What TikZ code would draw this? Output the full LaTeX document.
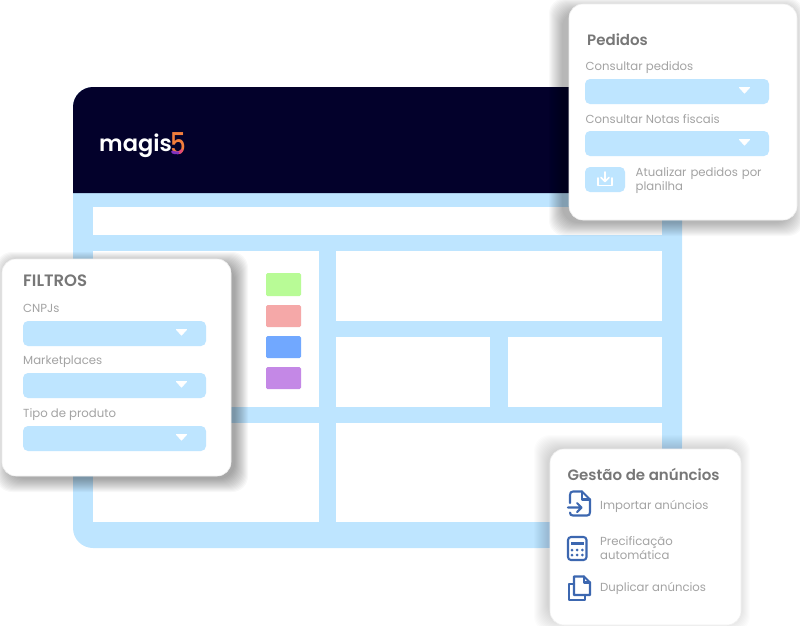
\documentclass[tikz,border=0pt]{standalone}
\usepackage{fontspec}
\setmainfont{Poppins}
\newfontfamily\popsemi{Poppins SemiBold}
\newfontfamily\popmed{Poppins Medium}
\usetikzlibrary{arrows.meta,calc}
\definecolor{navy}{HTML}{03012B}
\definecolor{sky}{HTML}{BEE5FF}
\definecolor{ttl}{HTML}{777777}
\definecolor{lbl}{HTML}{A3A3A3}
\definecolor{ico}{HTML}{3C67B0}
\tikzset{
  x=1pt,y=-1pt,
  wpanel/.style={fill=white,draw=none},
  cardbox/.style={fill=white,draw=black!6,line width=.6pt,rounded corners=14pt},
  dropbox/.style={fill=sky,draw=none,rounded corners=5pt},
  tri/.style={fill=white,draw=white,line width=1pt,line join=round},
  titletxt/.style={anchor=west,inner sep=0pt,text=ttl,font=\popsemi\fontsize{15}{15}\selectfont},
  labeltxt/.style={anchor=west,inner sep=0pt,text=lbl,font=\fontsize{11.7}{14}\selectfont},
  swatch/.style={draw=none,rounded corners=1.5pt},
  icon/.style={draw=ico,line width=2.1pt,line join=round,line cap=round,fill=none},
}
\newcommand{\softshadow}[3]{%
  \foreach \g in {14,13,...,1}{
    \fill[black,opacity=#3,rounded corners=16pt] ($#1+(-\g,-\g)$) rectangle ($#2+(\g,\g)$);
  }
}
\newcommand{\dropdown}[3]{% x1, y1, x2
  \fill[dropbox] (#1,#2) rectangle (#3,#2+25);
  \fill[tri] (#3-29.5,#2+8.5) -- (#3-19.5,#2+8.5) -- (#3-24.5,#2+14) -- cycle;
}
\begin{document}
\begin{tikzpicture}
\useasboundingbox (0,0) rectangle (800,625);
% main window
\fill[sky,rounded corners=20pt] (73,87) rectangle (682,548);
\fill[navy,rounded corners=20pt] (73,193) [sharp corners] -- (73,193) [rounded corners=20pt] -- (73,87) [sharp corners] -- (682,87) -- (682,193) -- cycle;
\fill[wpanel] (93,207) rectangle (662,235);
\fill[wpanel] (93,251) rectangle (319,407);
\fill[wpanel] (336,251) rectangle (662,321);
\fill[wpanel] (336,337) rectangle (490,407);
\fill[wpanel] (508,337) rectangle (662,407);
\fill[wpanel] (93,423) rectangle (319,522);
\fill[wpanel] (336,423) rectangle (662,522);
% swatches
\fill[swatch,fill={rgb,255:red,184;green,251;blue,150}] (266,273) rectangle (301,296);
\fill[swatch,fill={rgb,255:red,245;green,168;blue,168}] (266,305) rectangle (301,327);
\fill[swatch,fill={rgb,255:red,113;green,168;blue,255}] (266,336) rectangle (301,358);
\fill[swatch,fill={rgb,255:red,196;green,136;blue,230}] (266,367) rectangle (301,389);
% logo
\node[anchor=base west,inner sep=0pt,text=white,font=\popsemi\fontsize{22.5}{25}\selectfont] (logo) at (99,151.5) {magis};
\node[anchor=base west,inner sep=0pt,text={rgb,255:red,242;green,125;blue,60},font=\popmed\fontsize{30}{31}\selectfont,xscale=.82] (five) at (170,154) {5};
\draw[line width=2.9pt,line cap=round,draw={rgb,255:red,226;green,70;blue,120}] (181.6,150.5) .. controls (180.8,152) and (179.5,152.7) .. (178,152.8);
\draw[line width=2.9pt,line cap=round,draw={rgb,255:red,130;green,50;blue,190}] (178,152.8) .. controls (176,152.9) and (174,152.9) .. (172.5,152);
% shadows
\softshadow{(563,12)}{(790,222)}{.024}
\softshadow{(10,266)}{(234,478)}{.028}
\softshadow{(548,449)}{(736,618)}{.012}
% Pedidos card
\fill[cardbox] (569,4) rectangle (797,220);
\node[titletxt] (ptitle) at (587,39.5) {Pedidos};
\node[labeltxt] (pl1) at (585.5,68) {Consultar pedidos};
\dropdown{585}{79}{769}
\node[labeltxt] (pl2) at (585.5,119.5) {Consultar Notas fiscais};
\dropdown{585}{131}{769}
\fill[dropbox] (585,167) rectangle (625,192);
\draw[white,line width=1.6pt,line cap=round,line join=round] (598,178) -- (598,185.5) -- (612,185.5) -- (612,178);
\draw[white,line width=1.6pt,line cap=round,line join=round] (605,172) -- (605,181) (601,177.5) -- (605,181.5) -- (609,177.5);
\node[labeltxt,align=left,text width=140pt] (pl3) at (635.5,180.5) {Atualizar pedidos por\\planilha};
% Filtros card
\fill[cardbox] (2,259) rectangle (231,476);
\node[titletxt,font=\popsemi\fontsize{16.5}{16}\selectfont] (ftitle) at (23,281) {FILTROS};
\node[labeltxt] (fl1) at (23,308.5) {CNPJs};
\dropdown{23}{321}{206}
\node[labeltxt] (fl2) at (23,362) {Marketplaces};
\dropdown{23}{373}{206}
\node[labeltxt] (fl3) at (23,415) {Tipo de produto};
\dropdown{23}{426}{206}
% Gestao card
\fill[cardbox] (550,449) rectangle (741,625);
\node[titletxt] (gtitle) at (567.5,474.5) {Gestão de anúncios};
\node[labeltxt] (g1) at (600,506) {Importar anúncios};
\node[labeltxt,align=left,text width=120pt] (g2) at (600,548) {Precificação\\automática};
\node[labeltxt] (g3) at (600,588.5) {Duplicar anúncios};
% icon 1: import
\draw[icon] (570,503) -- (570,495) .. controls (570,492.5) and (571,491.5) .. (573,491.5) -- (582,491.5) -- (590,499.5) -- (590,512) .. controls (590,514.5) and (589,515.5) .. (587,515.5) -- (573,515.5) .. controls (571,515.5) and (570,514.5) .. (570,512.5);
\draw[icon] (582,491.5) -- (582,499.5) -- (590,499.5);
\draw[icon] (568,507.5) -- (581,507.5) (577,503) -- (581.5,507.5) -- (577,512);
% icon 2: calculator
\draw[icon,rounded corners=3pt] (568,537) rectangle (586.5,560);
\fill[ico] (571,541.5) rectangle (584,545);
\foreach \yy in {550,555}{\foreach \xx in {572,577.2,582.4}{\fill[ico] (\xx,\yy) circle (1.5pt);}}
% icon 3: copy
\draw[icon] (574,580) -- (574,576.5) -- (584,576.5) -- (590,582.5) -- (590,595) -- (574,595) -- cycle;
\draw[icon] (574,584) -- (569,584) -- (569,600) -- (585,600) -- (585,595);
\draw[icon] (584,576.5) -- (584,582.5) -- (590,582.5);
\end{tikzpicture}
\end{document}
